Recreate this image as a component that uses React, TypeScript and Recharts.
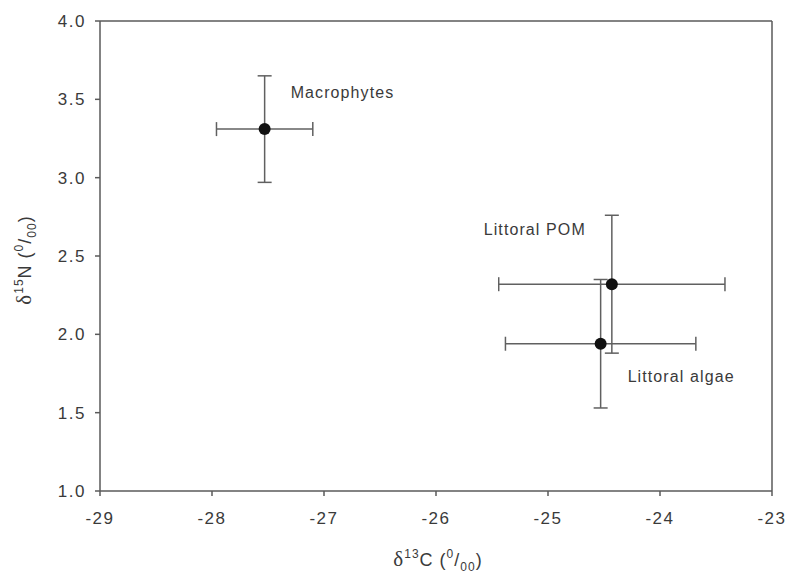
import { ScatterChart, Scatter, XAxis, YAxis, ErrorBar, ReferenceLine, LabelList } from 'recharts';

// mean δ13C / δ15N with standard deviations
const sources = ['Macrophytes', 'Littoral POM', 'Littoral algae'];
const carbon = [-27.53, -24.43, -24.53];
const carbonSd = [0.43, 1.01, 0.85];
const nitrogen = [3.31, 2.32, 1.94];
const nitrogenSd = [0.34, 0.44, 0.41];

const xTicks = [-29, -28, -27, -26, -25, -24, -23];
const yTicks = [1.0, 1.5, 2.0, 2.5, 3.0, 3.5, 4.0];

const data = sources.map((name, i) => ({
  name,
  x: carbon[i],
  y: nitrogen[i],
  errX: carbonSd[i],
  errY: nitrogenSd[i],
}));

const axisColor = '#5a5a5a';
const textColor = '#3a3a3a';
const font = '"Liberation Sans", Arial, sans-serif';

// where each name sits relative to its point
const labelPlacement: Record<string, { dx: number; dy: number; anchor: 'start' | 'end' }> = {
  Macrophytes: { dx: 26, dy: -37, anchor: 'start' },
  'Littoral POM': { dx: -26, dy: -55, anchor: 'end' },
  'Littoral algae': { dx: 27, dy: 33, anchor: 'start' },
};

function PointLabel(props: any) {
  const { x, y, width, height, value } = props;
  const p = labelPlacement[value];
  if (!p) return null;
  const cx = x + (width || 0) / 2;
  const cy = y + (height || 0) / 2;
  return (
    <text
      x={cx + p.dx}
      y={cy + p.dy}
      textAnchor={p.anchor}
      dominantBaseline="central"
      fontFamily={font}
      fontSize={16}
      letterSpacing={1.1}
      fill={textColor}
    >
      {value}
    </text>
  );
}

function IsotopeTitle({ element, mass, x, y, rotate }: { element: string; mass: string; x: number; y: number; rotate?: boolean }) {
  return (
    <text
      x={x}
      y={y}
      textAnchor="middle"
      fontFamily={font}
      fontSize={18}
      letterSpacing={1}
      fill={textColor}
      transform={rotate ? `rotate(-90, ${x}, ${y})` : undefined}
    >
      <tspan fontFamily='"Liberation Serif", "Times New Roman", serif' fontSize={21}>δ</tspan>
      <tspan fontSize={12} dy={-8}>{mass}</tspan>
      <tspan dy={8}>{element} (</tspan>
      <tspan fontSize={12} dy={-8}>0</tspan>
      <tspan dy={8}>/</tspan>
      <tspan fontSize={12} dy={5}>00</tspan>
      <tspan dy={-5}>)</tspan>
    </text>
  );
}

export default function App() {
  return (
    <div style={{ position: 'absolute', left: 0, top: 0, background: '#fff' }}>
      <ScatterChart width={789} height={574} margin={{ top: 21, right: 17, left: 0, bottom: 0 }}>
        <XAxis
          type="number"
          dataKey="x"
          domain={[-29, -23]}
          ticks={xTicks}
          height={83}
          stroke={axisColor}
          strokeWidth={1.5}
          tickSize={5}
          tickMargin={16}
          tick={{ fill: textColor, fontSize: 17, fontFamily: font, letterSpacing: 1.5 }}
          tickLine={{ stroke: axisColor, strokeWidth: 1.5 }}
          allowDataOverflow
        />
        <YAxis
          type="number"
          dataKey="y"
          domain={[1, 4]}
          ticks={yTicks}
          width={100}
          stroke={axisColor}
          strokeWidth={1.5}
          tickSize={5}
          tickMargin={9}
          tickFormatter={(v: number) => v.toFixed(1)}
          tick={{ fill: textColor, fontSize: 17, fontFamily: font, letterSpacing: 1.5 }}
          tickLine={{ stroke: axisColor, strokeWidth: 1.5 }}
          allowDataOverflow
        />
        <ReferenceLine y={4} stroke={axisColor} strokeWidth={1.5} ifOverflow="visible" />
        <ReferenceLine x={-23} stroke={axisColor} strokeWidth={1.5} ifOverflow="visible" />
        <Scatter data={data} fill="#111" shape={(p: any) => <circle cx={p.cx} cy={p.cy} r={6} fill="#111" />} isAnimationActive={false}>
          <ErrorBar dataKey="errX" direction="x" width={7} stroke="#606060" strokeWidth={1.5} isAnimationActive={false} />
          <ErrorBar dataKey="errY" direction="y" width={7} stroke="#606060" strokeWidth={1.5} isAnimationActive={false} />
          <LabelList dataKey="name" content={PointLabel} />
        </Scatter>
        <IsotopeTitle element="C" mass="13" x={438} y={566} />
        <IsotopeTitle element="N" mass="15" x={31} y={260} rotate />
      </ScatterChart>
    </div>
  );
}
